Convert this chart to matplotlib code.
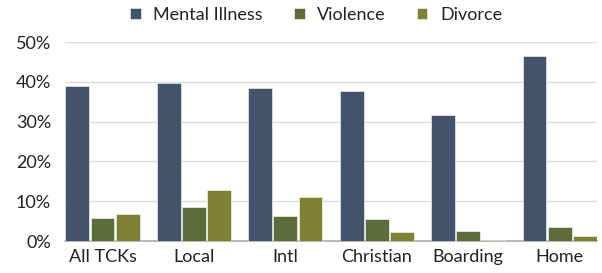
import numpy as np
import matplotlib.pyplot as plt

plt.rcParams['font.family'] = ['Lato', 'DejaVu Sans']

categories = ['All TCKs', 'Local', 'Intl', 'Christian', 'Boarding', 'Home']
mental_illness = [39.0, 39.8, 38.4, 37.8, 31.6, 46.6]
violence = [5.7, 8.6, 6.2, 5.6, 2.6, 3.5]
divorce = [6.9, 12.8, 11.0, 2.3, 0.3, 1.3]
yticks = [0, 10, 20, 30, 40, 50]

series = [('Mental Illness', mental_illness, '#435369'),
          ('Violence', violence, '#5a6d3a'),
          ('Divorce', divorce, '#7e8132')]

fig = plt.figure(figsize=(6.02, 2.73), dpi=100)
ax = fig.add_axes([0.108, 0.117, 0.884, 0.729])

x = np.arange(len(categories))
w = 0.26
step = 0.275
for i, (name, vals, col) in enumerate(series):
    ax.bar(x + (i - 1) * step, vals, width=w, color=col, label=name,
           edgecolor='white', linewidth=0.4, zorder=3)

ax.set_xlim(-0.41, 5.41)
ax.set_ylim(0, 50)
ax.set_yticks(yticks)
ax.set_yticklabels(['%d%%' % v for v in yticks], fontsize=13, color='#222222')
ax.set_xticks(x)
ax.set_xticklabels(categories, fontsize=13, color='#222222')
ax.tick_params(axis='both', length=0, pad=6)
ax.tick_params(axis='y', pad=10)
ax.grid(axis='y', color='#dddddd', linewidth=1, zorder=0)
for s in ['top', 'right', 'left']:
    ax.spines[s].set_visible(False)
ax.spines['bottom'].set_color('#aaaaaa')
ax.spines['bottom'].set_linewidth(1.2)

fig.legend(loc='upper center', bbox_to_anchor=(0.525, 1.035), ncol=3, frameon=False,
           fontsize=13, handlelength=0.6, handleheight=0.6, columnspacing=1.7,
           handletextpad=0.7, labelcolor='#222222')

fig.savefig('out.png', dpi=100)
